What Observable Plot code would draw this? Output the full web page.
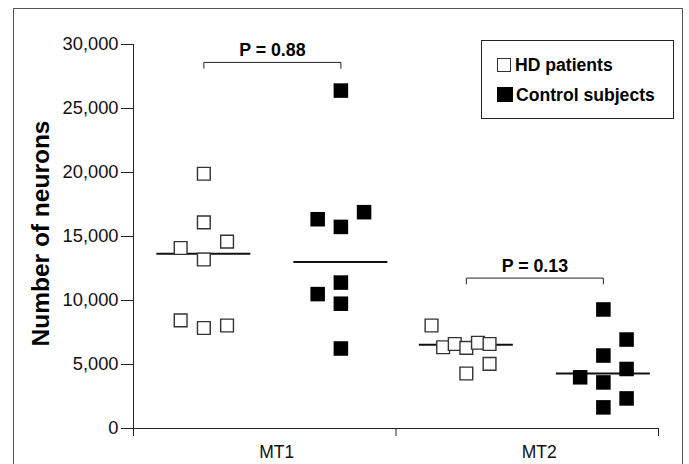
<!DOCTYPE html>
<html>
<head>
<meta charset="utf-8">
<script src="https://cdn.jsdelivr.net/npm/d3@7"></script>
<script src="https://cdn.jsdelivr.net/npm/@observablehq/plot@0.6"></script>
<style>
  html, body { margin: 0; padding: 0; background: #fff; overflow: hidden; }
  #wrap { position: relative; width: 689px; height: 464px; overflow: hidden; font-family: "Liberation Sans", Arial, Helvetica, sans-serif; }
  #frame { position: absolute; left: 13px; top: 8px; width: 670px; height: 520px; border: 1px solid #555; box-sizing: border-box; pointer-events: none; }
  #legend { position: absolute; left: 481px; top: 40px; width: 193px; height: 79px; border: 1px solid #222; box-sizing: border-box; background: #fff; font-weight: bold; font-size: 17.6px; color: #000; }
  .row { position: absolute; left: 15px; height: 20px; line-height: 20px; white-space: nowrap; }
  .sw { display: inline-block; width: 14px; height: 14px; box-sizing: border-box; vertical-align: -1px; margin-right: 4px; }
</style>
</head>
<body>
<div id="wrap">
  <div id="chart"></div>
  <div id="frame"></div>
  <div id="legend"></div>
</div>
<script>
// ---- data ----
const regions = ["MT1", "MT2"];
const groups = ["HD patients", "Control subjects"];

const hdMT1 = [19900, 16100, 14100, 14600, 13200, 8450, 7850, 8050];
const hdMT1Slot = [0, 0, -2, 2, 0, -2, 0, 2];
const ctMT1 = [26400, 16350, 15750, 16900, 11400, 10500, 9750, 6250];
const ctMT1Slot = [0, -2, 0, 2, 0, -2, 0, 0];
const hdMT2 = [8050, 6350, 6600, 6300, 6700, 6600, 5050, 4300];
const hdMT2Slot = [-3, -2, -1, 0, 1, 2, 2, 0];
const ctMT2 = [9300, 6950, 5700, 4000, 3600, 4650, 2350, 1650];
const ctMT2Slot = [0, 2, 0, -2, 0, 2, 2, 0];

const hdMedians = [13650, 6550];
const ctMedians = [13000, 4300];

const pLabels = ["P = 0.88", "P = 0.13"];
const bracketY = [28600, 11750];

const yTicks = [0, 5000, 10000, 15000, 20000, 25000, 30000];

// ---- layout constants (x in category units: region i spans [i, i+1]) ----
const groupOffset = { "HD patients": -0.232, "Control subjects": 0.29 };
const slotStep = 0.0442;
const medianHalf = 0.179;
const bracketDrop = 450;

const groupX = (g, ri) => ri + 0.5 + groupOffset[g];

const points = [];
function addPts(vals, slots, g, ri) {
  vals.forEach((v, i) => points.push({ group: g, region: regions[ri], value: v, x: groupX(g, ri) + slots[i] * slotStep }));
}
addPts(hdMT1, hdMT1Slot, groups[0], 0);
addPts(ctMT1, ctMT1Slot, groups[1], 0);
addPts(hdMT2, hdMT2Slot, groups[0], 1);
addPts(ctMT2, ctMT2Slot, groups[1], 1);

const medians = [];
regions.forEach((r, ri) => {
  medians.push({ region: r, group: groups[0], value: hdMedians[ri], x1: groupX(groups[0], ri) - medianHalf, x2: groupX(groups[0], ri) + medianHalf });
  medians.push({ region: r, group: groups[1], value: ctMedians[ri], x1: groupX(groups[1], ri) - medianHalf, x2: groupX(groups[1], ri) + medianHalf });
});

const brackets = [];
const pText = [];
regions.forEach((r, ri) => {
  const xa = groupX(groups[0], ri), xb = groupX(groups[1], ri), y = bracketY[ri];
  [[xa, y - bracketDrop], [xa, y], [xb, y], [xb, y - bracketDrop]].forEach(([x, yy]) => brackets.push({ region: r, x, y: yy }));
  pText.push({ label: pLabels[ri], x: (xa + xb) / 2, y });
});

const chart = Plot.plot({
  width: 689,
  height: 464,
  marginLeft: 133,
  marginRight: 31,
  marginTop: 44,
  marginBottom: 36,
  style: { fontFamily: "'Liberation Sans', Arial, Helvetica, sans-serif", color: "#000", background: "transparent", overflow: "visible" },
  x: { type: "linear", domain: [0, 2], axis: null },
  y: { type: "linear", domain: [0, 30000], axis: null },
  marks: [
    Plot.axisY({ ticks: yTicks, tickFormat: d3.format(","), tickSize: 12, tickPadding: 3, fontSize: 18.3, label: null, stroke: "#222", fill: "#111" }),
    Plot.ruleX([0], { y1: 30000, y2: 0, stroke: "#222", insetBottom: -7 }),
    Plot.ruleY([0], { stroke: "#222" }),
    Plot.ruleX([0, 1, 2], { y1: 0, y2: 0, stroke: "#222", insetBottom: -8 }),
    Plot.text(regions, { x: (d, i) => i + 0.5, frameAnchor: "bottom", lineAnchor: "top", dy: 17, dx: 12, fontSize: 17.5, fill: "#111" }),
    Plot.text(["Number of neurons"], { frameAnchor: "left", textAnchor: "middle", lineAnchor: "middle", rotate: -90, dx: -92, dy: -3, fontSize: 24.5, fontWeight: "bold", fill: "#000" }),
    Plot.line(brackets, { x: "x", y: "y", z: "region", stroke: "#222", strokeWidth: 1 }),
    Plot.text(pText, { x: "x", y: "y", text: "label", lineAnchor: "bottom", dy: -6, fontSize: 17.8, fontWeight: "bold", fill: "#000" }),
    Plot.ruleY(medians, { y: "value", x1: "x1", x2: "x2", stroke: "#111", strokeWidth: 2 }),
    Plot.dot(points.filter(d => d.group === groups[0]), { x: "x", y: "value", symbol: "square", r: 7.2, fill: "white", stroke: "#333", strokeWidth: 1.4 }),
    Plot.dot(points.filter(d => d.group === groups[1]), { x: "x", y: "value", symbol: "square", r: 8.2, fill: "#000", stroke: "none" })
  ]
});
document.getElementById("chart").appendChild(chart);

// legend
const legend = document.getElementById("legend");
groups.forEach((g, i) => {
  const row = document.createElement("div");
  row.className = "row";
  row.style.top = (i === 0 ? 14 : 44) + "px";
  const sw = document.createElement("span");
  sw.className = "sw";
  if (i === 0) { sw.style.border = "1.4px solid #333"; sw.style.background = "#fff"; }
  else { sw.style.background = "#000"; sw.style.width = "16px"; sw.style.height = "15px"; sw.style.marginRight = "3px"; }
  row.appendChild(sw);
  row.appendChild(document.createTextNode(g));
  legend.appendChild(row);
});
</script>
</body>
</html>
